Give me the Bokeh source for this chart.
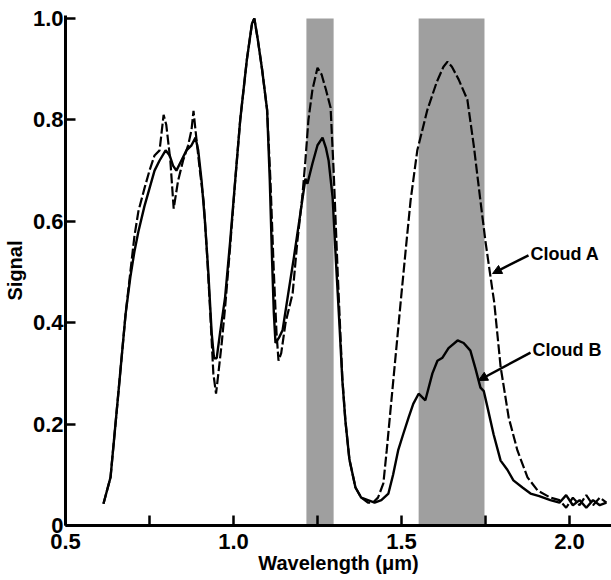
from bokeh.plotting import figure
from bokeh.models import FixedTicker, Range1d, Arrow, NormalHead, ColumnDataSource
from bokeh.core.properties import value
from bokeh.embed import file_html
from bokeh.resources import INLINE

# ---- data ----
cloud_a_x = [0.613, 0.634, 0.658, 0.679, 0.693, 0.705, 0.717, 0.735, 0.75, 0.765, 0.78, 0.792, 0.80,
             0.812, 0.822, 0.835, 0.85, 0.865, 0.875, 0.881, 0.89, 0.90, 0.911, 0.92, 0.93, 0.94, 0.948,
             0.955, 0.965, 0.975, 0.99, 1.005, 1.02, 1.04, 1.055, 1.062, 1.072, 1.085, 1.10, 1.11, 1.12,
             1.128, 1.134, 1.142, 1.155, 1.176, 1.19, 1.205, 1.214, 1.223, 1.235, 1.25, 1.262, 1.275,
             1.289, 1.298, 1.31, 1.324, 1.333, 1.345, 1.363, 1.38, 1.40, 1.415, 1.43, 1.446, 1.456,
             1.47, 1.484, 1.498, 1.512, 1.527, 1.547, 1.577, 1.605, 1.625, 1.637, 1.65, 1.67, 1.696,
             1.715, 1.735, 1.75, 1.765, 1.776, 1.795, 1.819, 1.845, 1.875, 1.905, 1.943, 1.97, 1.99,
             2.01, 2.03, 2.05, 2.07, 2.09, 2.11]
cloud_a_y = [0.043, 0.095, 0.266, 0.418, 0.50, 0.57, 0.62, 0.665, 0.70, 0.73, 0.74, 0.81, 0.79,
             0.72, 0.625, 0.68, 0.72, 0.75, 0.78, 0.818, 0.76, 0.70, 0.64, 0.55, 0.43, 0.30, 0.26,
             0.30, 0.36, 0.43, 0.55, 0.68, 0.80, 0.92, 0.99, 1.0, 0.96, 0.90, 0.82, 0.68, 0.50,
             0.38, 0.325, 0.34, 0.40, 0.458, 0.56, 0.65, 0.72, 0.80, 0.86, 0.903, 0.89, 0.86,
             0.824, 0.70, 0.50, 0.29, 0.207, 0.13, 0.075, 0.055, 0.045, 0.045, 0.055, 0.083, 0.148,
             0.247, 0.345, 0.444, 0.54, 0.641, 0.74, 0.82, 0.875, 0.905, 0.915, 0.905, 0.88, 0.84,
             0.75, 0.64, 0.56, 0.49, 0.44, 0.313, 0.213, 0.148, 0.095, 0.069, 0.055, 0.05, 0.035,
             0.055, 0.04, 0.06, 0.04, 0.055, 0.045]

cloud_b_x = [0.613, 0.634, 0.658, 0.679, 0.693, 0.705, 0.717, 0.735, 0.75, 0.765, 0.78, 0.798, 0.81,
             0.82, 0.83, 0.845, 0.86, 0.875, 0.887, 0.895, 0.905, 0.915, 0.925, 0.935, 0.942, 0.95,
             0.96, 0.975, 0.99, 1.005, 1.02, 1.04, 1.055, 1.062, 1.072, 1.085, 1.10, 1.108, 1.115,
             1.12, 1.125, 1.135, 1.146, 1.163, 1.18, 1.20, 1.214, 1.22, 1.235, 1.25, 1.265, 1.275,
             1.283, 1.295, 1.305, 1.315, 1.324, 1.333, 1.345, 1.363, 1.38, 1.40, 1.42, 1.44, 1.461,
             1.475, 1.49, 1.505, 1.521, 1.535, 1.551, 1.571, 1.592, 1.607, 1.622, 1.64, 1.667, 1.685,
             1.705, 1.72, 1.735, 1.745, 1.756, 1.774, 1.795, 1.815, 1.833, 1.86, 1.884, 1.91, 1.943,
             1.97, 1.99, 2.01, 2.03, 2.05, 2.07, 2.09, 2.11]
cloud_b_y = [0.043, 0.095, 0.266, 0.418, 0.49, 0.54, 0.58, 0.63, 0.665, 0.70, 0.72, 0.74, 0.73,
             0.71, 0.70, 0.72, 0.74, 0.75, 0.765, 0.74, 0.68, 0.60, 0.50, 0.38, 0.33, 0.33,
             0.38, 0.45, 0.56, 0.68, 0.80, 0.92, 0.99, 1.0, 0.96, 0.90, 0.82, 0.68, 0.52,
             0.42, 0.36, 0.37, 0.385, 0.458, 0.53, 0.62, 0.684, 0.674, 0.714, 0.75, 0.765, 0.745,
             0.72, 0.647, 0.52, 0.40, 0.286, 0.207, 0.13, 0.075, 0.055, 0.05, 0.045, 0.05, 0.063,
             0.10, 0.148, 0.18, 0.213, 0.24, 0.26, 0.247, 0.30, 0.325, 0.331, 0.35, 0.365, 0.36,
             0.345, 0.31, 0.272, 0.265, 0.233, 0.18, 0.128, 0.11, 0.089, 0.075, 0.063, 0.058, 0.05,
             0.045, 0.06, 0.04, 0.05, 0.035, 0.05, 0.04, 0.045]

band_start = [1.217, 1.551]
band_end = [1.298, 1.747]
band_top = [1.0, 1.0]

x_ticks = [0.5, 1.0, 1.5, 2.0]
x_minor = [0.75, 1.25, 1.75]
x_tick_labels = ["0.5", "1.0", "1.5", "2.0"]
y_ticks = [0.0, 0.2, 0.4, 0.6, 0.8, 1.0]
y_tick_labels = ["0", "0.2", "0.4", "0.6", "0.8", "1.0"]

FONT = "Liberation Sans"

p = figure(width=611, height=580, output_backend="svg", toolbar_location=None,
           x_range=Range1d(0.5, 2.125), y_range=Range1d(0.0, 1.006),
           min_border_left=65, min_border_right=0, min_border_top=15, min_border_bottom=55)
p.outline_line_color = None
p.grid.grid_line_color = None
p.background_fill_color = "white"
p.border_fill_color = "white"

# shaded bands
p.quad(left=band_start, right=band_end, bottom=[0, 0], top=band_top,
       fill_color="#9f9f9f", line_color=None)

# curves
p.line(cloud_a_x, cloud_a_y, line_color="black", line_width=2.2, line_dash="10 3")
p.line(cloud_b_x, cloud_b_y, line_color="black", line_width=2.4)

# axes
p.xaxis.ticker = FixedTicker(ticks=x_ticks, minor_ticks=x_minor)
p.yaxis.ticker = FixedTicker(ticks=y_ticks)
p.xaxis.major_label_overrides = {t: l for t, l in zip(x_ticks, x_tick_labels)}
p.yaxis.major_label_overrides = {t: l for t, l in zip(y_ticks, y_tick_labels)}

for ax in (p.xaxis[0], p.yaxis[0]):
    ax.axis_line_width = 3
    ax.axis_line_color = "black"
    ax.major_tick_line_width = 2.5
    ax.major_tick_line_color = "black"
    ax.major_tick_in = 10
    ax.major_tick_out = 0
    ax.minor_tick_line_width = 2.5
    ax.minor_tick_line_color = "black"
    ax.minor_tick_in = 10
    ax.minor_tick_out = 0
    ax.major_label_text_font = FONT
    ax.major_label_text_font_style = "bold"
    ax.major_label_text_font_size = "22px"
    ax.major_label_text_color = "black"
    ax.axis_label_text_font = FONT
    ax.axis_label_text_font_style = "bold"
    ax.axis_label_text_font_size = "20px"
    ax.axis_label_text_color = "black"

p.yaxis.minor_tick_line_color = None
p.xaxis.axis_label = "Wavelength (\u03bcm)"
p.yaxis.axis_label = "Signal"
p.xaxis.major_label_standoff = 8
p.xaxis.axis_label_standoff = 0
p.yaxis.major_label_standoff = 2
p.yaxis.axis_label_standoff = 4

# annotations
label_x = [1.884, 1.89]
label_y = [0.536, 0.347]
label_text = ["Cloud A", "Cloud B"]
src = ColumnDataSource(dict(x=label_x, y=label_y, text=label_text))
p.text(x="x", y="y", text="text", source=src, text_font=value(FONT),
       text_font_style="bold", text_font_size="18px", text_baseline="middle",
       text_align="left", text_color="black")

p.add_layout(Arrow(x_start=1.878, y_start=0.533, x_end=1.771, y_end=0.497,
                   line_width=2.5, line_color="black",
                   end=NormalHead(size=9, fill_color="black", line_color="black")))
p.add_layout(Arrow(x_start=1.884, y_start=0.341, x_end=1.729, y_end=0.286,
                   line_width=2.5, line_color="black",
                   end=NormalHead(size=9, fill_color="black", line_color="black")))

open("out.html", "w").write(file_html(p, INLINE))
